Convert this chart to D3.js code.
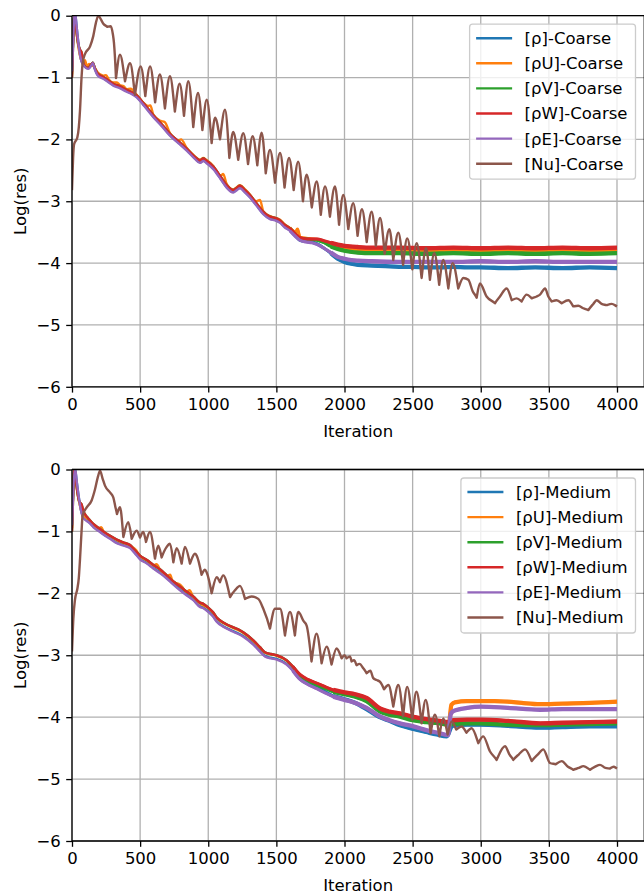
<!DOCTYPE html>
<html>
<head>
<meta charset="utf-8">
<script src="https://cdn.jsdelivr.net/npm/d3@7"></script>
<style>
  body { margin: 0; background: #fff; }
  svg { display: block; }
  text { font-family: "DejaVu Sans", sans-serif; }
</style>
</head>
<body>
<svg id="chart" width="644" height="896"></svg>
<script>
// ---- data ----
const iterTicks = [0, 500, 1000, 1500, 2000, 2500, 3000, 3500, 4000];
const logTicks = [0, -1, -2, -3, -4, -5, -6];
const seriesNames = ['[ρ]', '[ρU]', '[ρV]', '[ρW]', '[ρE]', '[Nu]'];
const seriesColors = ['#1f77b4', '#ff7f0e', '#2ca02c', '#d62728', '#9467bd', '#8c564b'];

// Coarse mesh, [iteration, log10(res)]
const rhoCoarse = [[0,-0.9],[8,-0.4],[22,0.05],[35,-0.2],[50,-0.5],[65,-0.7],[80,-0.78],[100,-0.83],[120,-0.85],[140,-0.8],[152,-0.76],[168,-0.86],[190,-0.96],[230,-1.01],[270,-1.07],[303,-1.12],[350,-1.16],[401,-1.22],[440,-1.26],[475,-1.31],[530,-1.45],[597,-1.63],[660,-1.78],[719,-1.93],[780,-2.05],[842,-2.17],[900,-2.3],[939,-2.37],[964,-2.34],[985,-2.37],[1037,-2.47],[1090,-2.63],[1135,-2.77],[1183,-2.85],[1210,-2.81],[1233,-2.78],[1270,-2.85],[1306,-2.93],[1350,-3.05],[1404,-3.2],[1453,-3.28],[1490,-3.3],[1527,-3.34],[1560,-3.41],[1600,-3.47],[1640,-3.56],[1673,-3.63],[1720,-3.65],[1760,-3.66],[1800,-3.69],[1850,-3.76],[1900,-3.84],[1950,-3.93],[2000,-3.98],[2050,-4.01],[2100,-4.03],[2200,-4.04],[2300,-4.05],[2400,-4.06],[2500,-4.06],[2600,-4.07],[2700,-4.07],[2800,-4.06],[2900,-4.07],[3000,-4.07],[3200,-4.08],[3400,-4.07],[3600,-4.08],[3800,-4.07],[4000,-4.08]];
const rhoUCoarse = [[0,-0.95],[8,-0.4],[20,0.0],[35,-0.3],[50,-0.55],[65,-0.7],[80,-0.76],[95,-0.72],[110,-0.82],[125,-0.78],[140,-0.8],[160,-0.82],[190,-0.92],[210,-0.95],[230,-0.97],[250,-0.96],[270,-1.03],[300,-1.08],[330,-1.08],[350,-1.12],[380,-1.14],[401,-1.19],[430,-1.18],[475,-1.28],[530,-1.42],[560,-1.46],[575,-1.45],[597,-1.6],[650,-1.7],[680,-1.72],[719,-1.9],[780,-2.02],[800,-2.0],[842,-2.14],[900,-2.27],[939,-2.33],[964,-2.3],[985,-2.33],[1037,-2.43],[1090,-2.59],[1110,-2.56],[1135,-2.72],[1183,-2.81],[1233,-2.74],[1270,-2.81],[1306,-2.89],[1350,-3.0],[1380,-2.98],[1404,-3.16],[1453,-3.24],[1527,-3.3],[1560,-3.37],[1600,-3.43],[1640,-3.5],[1655,-3.45],[1673,-3.58],[1720,-3.6],[1760,-3.61],[1800,-3.62],[1850,-3.66],[1900,-3.7],[1950,-3.74],[2000,-3.76],[2100,-3.77],[2200,-3.78],[2400,-3.78],[2600,-3.79],[2800,-3.78],[3000,-3.79],[3200,-3.78],[3400,-3.79],[3600,-3.78],[3800,-3.79],[4000,-3.78]];
const rhoVCoarse = [[0,-1.0],[6,-0.6],[14,-0.05],[20,0.0],[30,-0.2],[45,-0.45],[59,-0.55],[71,-0.6],[85,-0.78],[100,-0.83],[120,-0.84],[140,-0.79],[152,-0.76],[170,-0.86],[190,-0.94],[230,-0.99],[270,-1.05],[303,-1.1],[350,-1.14],[401,-1.2],[440,-1.24],[475,-1.29],[530,-1.43],[597,-1.61],[660,-1.76],[719,-1.91],[780,-2.03],[842,-2.15],[900,-2.28],[939,-2.34],[964,-2.31],[985,-2.34],[1037,-2.44],[1090,-2.6],[1135,-2.74],[1183,-2.82],[1210,-2.78],[1233,-2.75],[1270,-2.82],[1306,-2.9],[1350,-3.02],[1404,-3.17],[1453,-3.25],[1490,-3.27],[1527,-3.31],[1560,-3.38],[1600,-3.44],[1640,-3.53],[1673,-3.6],[1720,-3.61],[1760,-3.62],[1800,-3.63],[1850,-3.67],[1900,-3.73],[1950,-3.77],[2000,-3.8],[2100,-3.83],[2200,-3.84],[2400,-3.84],[2600,-3.85],[2800,-3.84],[3000,-3.85],[3200,-3.84],[3400,-3.85],[3600,-3.84],[3800,-3.85],[4000,-3.84]];
const rhoWCoarse = [[0,-1.0],[6,-0.6],[14,-0.05],[20,0.0],[30,-0.2],[45,-0.45],[59,-0.55],[71,-0.6],[85,-0.78],[100,-0.83],[120,-0.84],[140,-0.79],[152,-0.76],[170,-0.86],[190,-0.94],[230,-0.99],[270,-1.05],[303,-1.1],[350,-1.14],[401,-1.2],[440,-1.24],[475,-1.29],[530,-1.43],[597,-1.61],[660,-1.76],[719,-1.91],[780,-2.03],[842,-2.15],[900,-2.28],[939,-2.34],[964,-2.31],[985,-2.34],[1037,-2.44],[1090,-2.6],[1135,-2.74],[1183,-2.82],[1210,-2.78],[1233,-2.75],[1270,-2.82],[1306,-2.9],[1350,-3.02],[1404,-3.17],[1453,-3.25],[1490,-3.27],[1527,-3.31],[1560,-3.38],[1600,-3.44],[1640,-3.53],[1673,-3.59],[1720,-3.61],[1760,-3.61],[1800,-3.61],[1850,-3.64],[1900,-3.67],[1950,-3.7],[2000,-3.72],[2100,-3.74],[2200,-3.75],[2400,-3.75],[2600,-3.76],[2800,-3.75],[3000,-3.76],[3200,-3.75],[3400,-3.76],[3600,-3.75],[3800,-3.76],[4000,-3.75]];
const rhoECoarse = [[0,-0.9],[8,-0.4],[22,0.05],[35,-0.2],[50,-0.5],[65,-0.7],[80,-0.79],[100,-0.84],[120,-0.86],[140,-0.81],[152,-0.77],[168,-0.87],[190,-0.97],[230,-1.02],[270,-1.08],[303,-1.13],[350,-1.17],[401,-1.23],[440,-1.27],[475,-1.32],[530,-1.46],[597,-1.64],[660,-1.79],[719,-1.94],[780,-2.06],[842,-2.18],[900,-2.31],[939,-2.38],[964,-2.35],[985,-2.38],[1037,-2.48],[1090,-2.64],[1135,-2.78],[1183,-2.86],[1210,-2.82],[1233,-2.79],[1270,-2.86],[1306,-2.94],[1350,-3.06],[1404,-3.21],[1453,-3.29],[1490,-3.31],[1527,-3.35],[1560,-3.42],[1600,-3.48],[1640,-3.57],[1673,-3.63],[1720,-3.66],[1760,-3.67],[1800,-3.7],[1850,-3.76],[1900,-3.83],[1950,-3.9],[2000,-3.93],[2050,-3.95],[2100,-3.96],[2200,-3.97],[2400,-3.98],[2600,-3.98],[2800,-3.98],[3000,-3.97],[3200,-3.98],[3400,-3.97],[3600,-3.98],[3800,-3.98],[4000,-3.98]];
const nuCoarse = [[0,-2.82],[8,-2.3],[15,-2.08],[39,-1.97],[50,-1.8],[59,-1.52],[70,-1.0],[78,-0.77],[95,-0.62],[132,-0.5],[156,-0.33],[175,-0.12],[193,0.0],[212,-0.06],[230,-0.13],[259,-0.18],[284,-0.17],[300,-0.3],[308,-0.44],[323,-1.01],[352,-0.63],[389,-1.06],[426,-0.77],[462,-1.28],[504,-0.82],[538,-1.3],[573,-0.82],[610,-1.4],[645,-0.95],[682,-1.5],[719,-0.98],[755,-1.55],[790,-1.1],[822,-1.62],[854,-1.06],[890,-1.8],[925,-1.25],[957,-1.85],[989,-1.36],[1025,-2.06],[1050,-1.65],[1086,-2.0],[1123,-1.52],[1155,-2.3],[1183,-1.88],[1220,-2.33],[1257,-1.9],[1292,-2.4],[1326,-1.95],[1360,-2.42],[1392,-1.89],[1422,-2.55],[1453,-2.17],[1490,-2.7],[1527,-2.22],[1560,-2.78],[1593,-2.3],[1627,-2.82],[1660,-2.36],[1695,-3.0],[1722,-2.57],[1760,-3.1],[1796,-2.68],[1826,-3.22],[1857,-2.76],[1893,-3.25],[1930,-2.76],[1960,-3.38],[1991,-2.9],[2028,-3.45],[2064,-3.03],[2096,-3.56],[2128,-3.13],[2163,-3.66],[2199,-3.17],[2230,-3.72],[2261,-3.27],[2295,-3.85],[2329,-3.45],[2358,-3.95],[2395,-3.51],[2430,-4.03],[2460,-3.6],[2498,-4.1],[2530,-3.68],[2566,-4.24],[2598,-3.76],[2627,-4.27],[2659,-3.84],[2695,-4.35],[2725,-3.95],[2762,-4.41],[2794,-4.0],[2835,-4.41],[2872,-4.24],[2909,-4.27],[2940,-4.45],[2970,-4.56],[2994,-4.33],[3043,-4.54],[3104,-4.65],[3141,-4.54],[3190,-4.41],[3227,-4.6],[3264,-4.57],[3300,-4.62],[3337,-4.51],[3374,-4.57],[3410,-4.54],[3435,-4.51],[3472,-4.41],[3496,-4.54],[3520,-4.62],[3557,-4.6],[3594,-4.65],[3643,-4.6],[3679,-4.7],[3716,-4.69],[3753,-4.73],[3790,-4.76],[3826,-4.66],[3851,-4.6],[3887,-4.66],[3924,-4.68],[3961,-4.66],[4000,-4.7]];

// Medium mesh
const rhoMedium = [[0,-0.9],[8,-0.4],[22,0.02],[35,-0.2],[50,-0.45],[65,-0.65],[78,-0.75],[95,-0.8],[120,-0.84],[140,-0.88],[156,-0.92],[193,-0.98],[230,-1.04],[280,-1.11],[328,-1.18],[380,-1.22],[426,-1.26],[460,-1.34],[499,-1.44],[550,-1.51],[597,-1.59],[650,-1.67],[695,-1.75],[740,-1.84],[793,-1.94],[840,-2.02],[890,-2.1],[939,-2.21],[964,-2.23],[1000,-2.29],[1037,-2.37],[1062,-2.45],[1110,-2.53],[1184,-2.61],[1257,-2.69],[1331,-2.82],[1380,-2.93],[1416,-3.01],[1460,-3.04],[1502,-3.06],[1575,-3.14],[1620,-3.24],[1673,-3.38],[1730,-3.46],[1796,-3.52],[1850,-3.58],[1918,-3.66],[2000,-3.71],[2080,-3.77],[2162,-3.87],[2250,-3.99],[2330,-4.06],[2407,-4.13],[2506,-4.19],[2600,-4.24],[2677,-4.28],[2751,-4.31],[2790,-4.14],[2900,-4.12],[3000,-4.12],[3200,-4.14],[3435,-4.17],[3600,-4.16],[3800,-4.15],[4000,-4.15]];
const rhoUMedium = [[0,-0.95],[8,-0.4],[20,0.0],[35,-0.3],[50,-0.5],[65,-0.64],[80,-0.73],[95,-0.78],[120,-0.81],[156,-0.89],[193,-0.95],[215,-0.93],[235,-1.02],[280,-1.08],[328,-1.14],[380,-1.19],[426,-1.23],[470,-1.3],[499,-1.4],[550,-1.47],[597,-1.55],[620,-1.53],[650,-1.63],[695,-1.72],[720,-1.7],[740,-1.81],[793,-1.86],[810,-1.9],[840,-1.98],[862,-1.95],[890,-2.06],[939,-2.16],[1000,-2.24],[1037,-2.32],[1062,-2.4],[1110,-2.48],[1184,-2.56],[1257,-2.64],[1331,-2.77],[1380,-2.88],[1416,-2.96],[1502,-3.01],[1575,-3.09],[1620,-3.19],[1673,-3.32],[1730,-3.4],[1796,-3.46],[1850,-3.51],[1918,-3.57],[2000,-3.62],[2080,-3.66],[2162,-3.72],[2261,-3.89],[2330,-3.94],[2407,-3.98],[2500,-4.03],[2600,-4.07],[2700,-4.1],[2765,-4.12],[2785,-3.8],[2810,-3.76],[2900,-3.74],[3000,-3.74],[3100,-3.74],[3200,-3.75],[3300,-3.77],[3435,-3.79],[3600,-3.78],[3800,-3.77],[4000,-3.75]];
const rhoVMedium = [[0,-1.0],[6,-0.6],[14,-0.05],[20,0.0],[30,-0.2],[42,-0.4],[54,-0.52],[70,-0.56],[85,-0.68],[95,-0.72],[120,-0.79],[156,-0.88],[193,-0.94],[230,-1.0],[280,-1.07],[328,-1.13],[380,-1.18],[426,-1.22],[460,-1.3],[499,-1.39],[550,-1.46],[597,-1.54],[650,-1.62],[695,-1.71],[740,-1.8],[793,-1.89],[840,-1.97],[890,-2.05],[939,-2.15],[964,-2.17],[1000,-2.23],[1037,-2.31],[1062,-2.39],[1110,-2.47],[1184,-2.55],[1220,-2.58],[1257,-2.63],[1331,-2.76],[1380,-2.87],[1416,-2.95],[1460,-2.98],[1502,-3.0],[1575,-3.08],[1620,-3.18],[1673,-3.32],[1730,-3.41],[1796,-3.48],[1850,-3.53],[1918,-3.59],[2000,-3.63],[2080,-3.67],[2162,-3.74],[2261,-3.91],[2330,-3.96],[2407,-3.99],[2500,-4.05],[2600,-4.08],[2700,-4.1],[2760,-4.12],[2800,-4.11],[2900,-4.1],[3000,-4.1],[3200,-4.12],[3435,-4.13],[3600,-4.12],[3800,-4.11],[4000,-4.1]];
const rhoWMedium = [[0,-1.0],[6,-0.6],[14,-0.05],[20,0.0],[30,-0.2],[42,-0.4],[54,-0.52],[70,-0.56],[85,-0.68],[95,-0.72],[120,-0.79],[156,-0.88],[193,-0.94],[230,-1.0],[280,-1.07],[328,-1.13],[380,-1.18],[426,-1.22],[460,-1.3],[499,-1.39],[550,-1.46],[597,-1.54],[650,-1.62],[695,-1.71],[740,-1.8],[793,-1.89],[840,-1.97],[890,-2.05],[939,-2.15],[964,-2.17],[1000,-2.23],[1037,-2.31],[1062,-2.39],[1110,-2.47],[1184,-2.55],[1220,-2.58],[1257,-2.63],[1331,-2.76],[1380,-2.87],[1416,-2.95],[1460,-2.98],[1502,-3.0],[1575,-3.08],[1620,-3.18],[1673,-3.31],[1730,-3.39],[1796,-3.45],[1850,-3.5],[1918,-3.56],[2000,-3.6],[2080,-3.63],[2162,-3.69],[2261,-3.86],[2330,-3.91],[2407,-3.94],[2500,-3.99],[2600,-4.03],[2700,-4.06],[2760,-4.08],[2800,-4.05],[2900,-4.04],[3000,-4.04],[3200,-4.06],[3435,-4.1],[3600,-4.09],[3800,-4.08],[4000,-4.07]];
const rhoEMedium = [[0,-0.9],[8,-0.4],[22,0.02],[35,-0.2],[50,-0.45],[65,-0.65],[78,-0.76],[95,-0.81],[120,-0.85],[140,-0.89],[156,-0.93],[193,-0.99],[230,-1.05],[280,-1.12],[328,-1.19],[380,-1.23],[426,-1.27],[460,-1.35],[499,-1.45],[550,-1.52],[597,-1.6],[650,-1.68],[695,-1.76],[740,-1.85],[793,-1.95],[840,-2.03],[890,-2.11],[939,-2.22],[964,-2.24],[1000,-2.3],[1037,-2.38],[1062,-2.46],[1110,-2.54],[1184,-2.62],[1257,-2.7],[1331,-2.83],[1380,-2.94],[1416,-3.02],[1460,-3.05],[1502,-3.07],[1575,-3.15],[1620,-3.25],[1673,-3.39],[1730,-3.47],[1796,-3.54],[1850,-3.6],[1918,-3.67],[2000,-3.72],[2080,-3.77],[2162,-3.85],[2261,-3.99],[2330,-4.05],[2407,-4.1],[2506,-4.15],[2600,-4.21],[2700,-4.26],[2760,-4.29],[2780,-3.95],[2800,-3.9],[2900,-3.85],[3000,-3.83],[3200,-3.85],[3435,-3.88],[3600,-3.87],[3800,-3.87],[4000,-3.87]];
const nuMedium = [[0,-2.94],[10,-2.4],[22,-2.1],[39,-1.93],[50,-1.75],[59,-1.44],[70,-1.0],[78,-0.74],[108,-0.61],[144,-0.5],[169,-0.32],[190,-0.12],[206,-0.02],[225,-0.15],[242,-0.26],[279,-0.37],[303,-0.45],[318,-0.6],[330,-0.72],[352,-0.61],[377,-1.09],[413,-0.85],[438,-1.12],[474,-0.99],[499,-1.1],[523,-1.01],[543,-1.17],[572,-1.01],[609,-1.44],[633,-1.23],[658,-1.42],[695,-1.25],[719,-1.2],[744,-1.5],[768,-1.27],[805,-1.52],[829,-1.25],[866,-1.52],[902,-1.36],[915,-1.39],[951,-1.7],[976,-1.62],[988,-1.66],[1025,-2.0],[1062,-1.74],[1086,-1.82],[1110,-1.71],[1160,-2.06],[1196,-1.95],[1233,-1.88],[1270,-2.09],[1318,-2.05],[1367,-2.09],[1404,-2.25],[1453,-2.57],[1490,-2.25],[1527,-2.25],[1563,-2.68],[1600,-2.3],[1636,-2.68],[1661,-2.3],[1700,-2.45],[1722,-2.52],[1758,-3.1],[1795,-2.65],[1832,-3.13],[1869,-2.86],[1905,-3.15],[1942,-2.89],[1979,-3.05],[2000,-3.0],[2015,-3.05],[2040,-3.02],[2052,-3.1],[2070,-3.08],[2088,-3.16],[2110,-3.14],[2138,-3.21],[2162,-3.29],[2190,-3.25],[2211,-3.37],[2236,-3.4],[2261,-3.43],[2290,-3.55],[2322,-3.48],[2358,-3.83],[2395,-3.48],[2430,-3.99],[2460,-3.51],[2497,-4.04],[2528,-3.59],[2566,-4.1],[2596,-3.72],[2632,-4.26],[2664,-3.96],[2696,-4.31],[2725,-4.02],[2757,-4.28],[2786,-4.07],[2820,-4.2],[2859,-4.15],[2895,-4.25],[2933,-4.18],[2982,-4.42],[3018,-4.31],[3067,-4.55],[3116,-4.69],[3178,-4.47],[3210,-4.6],[3239,-4.69],[3280,-4.6],[3325,-4.52],[3374,-4.71],[3420,-4.6],[3459,-4.52],[3508,-4.74],[3550,-4.76],[3594,-4.71],[3640,-4.8],[3679,-4.85],[3720,-4.82],[3753,-4.79],[3802,-4.85],[3840,-4.8],[3875,-4.77],[3915,-4.82],[3949,-4.83],[3975,-4.8],[4000,-4.83]];

const coarseSeries = [rhoCoarse, rhoUCoarse, rhoVCoarse, rhoWCoarse, rhoECoarse, nuCoarse];
const mediumSeries = [rhoMedium, rhoUMedium, rhoVMedium, rhoWMedium, rhoEMedium, nuMedium];

// curve: rounded crests, sharper troughs (the |sin|-like Nu oscillations)
function CuspCurve(context) { this._context = context; }
CuspCurve.prototype = {
    areaStart() {}, areaEnd() {},
    lineStart() { this._pts = []; },
    point(x, y) { this._pts.push([+x, +y]); },
    lineEnd() {
        const p = this._pts, n = p.length, ctx = this._context;
        if (n === 0) return;
        ctx.moveTo(p[0][0], p[0][1]);
        if (n === 1) return;
        const s = [];
        for (let i = 0; i < n - 1; i++) s.push((p[i + 1][1] - p[i][1]) / (p[i + 1][0] - p[i][0]));
        const mIn = [], mOut = [];
        for (let i = 0; i < n; i++) {
            if (i === 0) { mIn[i] = mOut[i] = s[0]; continue; }
            if (i === n - 1) { mIn[i] = mOut[i] = s[n - 2]; continue; }
            const s0 = s[i - 1], s1 = s[i];
            const h0 = p[i][0] - p[i - 1][0], h1 = p[i + 1][0] - p[i][0];
            if (s0 > 0 && s1 < 0) {
                // trough (screen y maximum): keep a corner
                mIn[i] = 1.3 * s0;
                mOut[i] = 1.3 * s1;
            } else {
                const pp = (s0 * h1 + s1 * h0) / (h0 + h1);
                const m = (Math.sign(s0) + Math.sign(s1)) * Math.min(Math.abs(s0), Math.abs(s1), 0.5 * Math.abs(pp));
                mIn[i] = mOut[i] = m;
            }
        }
        for (let i = 0; i < n - 1; i++) {
            const h = p[i + 1][0] - p[i][0];
            ctx.bezierCurveTo(p[i][0] + h / 3, p[i][1] + mOut[i] * h / 3,
                p[i + 1][0] - h / 3, p[i + 1][1] - mIn[i + 1] * h / 3,
                p[i + 1][0], p[i + 1][1]);
        }
    }
};
const curveCusp = ctx => new CuspCurve(ctx);

const svg = d3.select('#chart');
const FONT = 16.5;

function drawPanel(cfg) {
    const x = d3.scaleLinear().domain([0, 4200]).range([72, 644.25]);
    const y = d3.scaleLinear().domain([-6, 0]).range([cfg.bottom, cfg.top]);
    const g = svg.append('g');

    // Grid
    g.append('g').selectAll('line').data(iterTicks).join('line')
        .attr('x1', d => x(d)).attr('x2', d => x(d))
        .attr('y1', cfg.top).attr('y2', cfg.bottom)
        .attr('stroke', '#b0b0b0').attr('stroke-width', 1.3);
    g.append('g').selectAll('line').data(logTicks).join('line')
        .attr('x1', 72).attr('x2', 644.25)
        .attr('y1', d => y(d)).attr('y2', d => y(d))
        .attr('stroke', '#b0b0b0').attr('stroke-width', 1.3);

    // Clip to the axes box
    svg.append('clipPath').attr('id', cfg.id + '-clip')
        .append('rect').attr('x', 72).attr('y', cfg.top)
        .attr('width', 644.25 - 72).attr('height', cfg.bottom - cfg.top);

    const plot = g.append('g').attr('clip-path', `url(#${cfg.id}-clip)`);
    const smooth = d3.line().x(d => x(d[0])).y(d => y(d[1])).curve(d3.curveMonotoneX);
    const cusp = d3.line().x(d => x(d[0])).y(d => y(d[1])).curve(curveCusp);

    cfg.series.forEach((data, i) => {
        const isNu = i === cfg.series.length - 1;
        plot.append('path')
            .datum(data)
            .attr('d', isNu ? cusp : smooth)
            .attr('fill', 'none')
            .attr('stroke', seriesColors[i])
            .attr('stroke-width', 2.4)
            .attr('stroke-linejoin', 'round');
        if (!isNu) {
            // noisy converged part drawn as a band that widens with iterations
            cfg.tails.forEach(t => {
                plot.append('path')
                    .datum(data.filter(d => d[0] >= t.from))
                    .attr('d', smooth)
                    .attr('fill', 'none')
                    .attr('stroke', seriesColors[i])
                    .attr('stroke-width', t.width)
                    .attr('stroke-linejoin', 'round');
            });
        }
    });

    // Axes
    const xAxis = g.append('g')
        .attr('transform', `translate(0,${cfg.bottom})`)
        .call(d3.axisBottom(x).tickValues(iterTicks).tickSize(5.8).tickPadding(5.5).tickFormat(d3.format('d')));
    const yAxis = g.append('g')
        .attr('transform', 'translate(72,0)')
        .call(d3.axisLeft(y).tickValues(logTicks).tickSize(5.8).tickPadding(5.5).tickFormat(d3.format('d')));
    [xAxis, yAxis].forEach(a => {
        a.select('.domain').remove();
        a.selectAll('line').attr('stroke', '#000').attr('stroke-width', 1.3);
        a.selectAll('text').attr('fill', '#000')
            .style('font-family', '"DejaVu Sans", sans-serif')
            .style('font-size', FONT + 'px');
    });

    // Spines
    const spine = g.append('g').attr('stroke', '#000').attr('stroke-width', 1.3);
    spine.append('line').attr('x1', 72).attr('x2', 72).attr('y1', cfg.top).attr('y2', cfg.bottom);
    spine.append('line').attr('x1', 72).attr('x2', 644.25).attr('y1', cfg.bottom).attr('y2', cfg.bottom);
    spine.append('line').attr('x1', 72).attr('x2', 644.25).attr('y1', cfg.top).attr('y2', cfg.top);
    spine.append('line').attr('x1', 644.25).attr('x2', 644.25).attr('y1', cfg.top).attr('y2', cfg.bottom);

    // Labels
    g.append('text')
        .attr('x', (72 + 644.25) / 2).attr('y', cfg.bottom + 50)
        .attr('text-anchor', 'middle')
        .style('font-size', FONT + 'px')
        .text('Iteration');
    g.append('text')
        .attr('transform', `translate(26,${(cfg.top + cfg.bottom) / 2}) rotate(-90)`)
        .attr('text-anchor', 'middle')
        .style('font-size', FONT + 'px')
        .text('Log(res)');

    // Legend
    const leg = g.append('g');
    const frame = leg.append('rect');
    const rowH = 25.1;
    const rows = leg.selectAll('g').data(seriesNames).join('g')
        .attr('transform', (d, i) => `translate(0,${cfg.top + 22.5 + i * rowH})`);
    rows.append('line')
        .attr('x1', 6.5).attr('x2', 42.5).attr('y1', 0).attr('y2', 0)
        .attr('stroke', (d, i) => seriesColors[i]).attr('stroke-width', 2.4);
    const labels = rows.append('text')
        .attr('x', 55).attr('dy', '0.36em')
        .style('font-size', FONT + 'px')
        .text(d => d + '-' + cfg.mesh);
    let maxW = 0;
    labels.each(function () { maxW = Math.max(maxW, this.getComputedTextLength()); });
    const boxW = 55 + maxW + 8;
    leg.attr('transform', `translate(${635.5 - boxW},0)`);
    frame.attr('x', 0).attr('y', cfg.top + 8.5)
        .attr('width', boxW).attr('height', 155)
        .attr('rx', 3).attr('ry', 3)
        .attr('fill', '#fff').attr('fill-opacity', 0.8)
        .attr('stroke', '#cccccc').attr('stroke-width', 1.3);
}

const noiseBands = [{ from: 1600, width: 3.1 }, { from: 1900, width: 4.3 }];
drawPanel({ id: 'coarse', top: 15.7, bottom: 386.8, series: coarseSeries, mesh: 'Coarse', tails: noiseBands });
drawPanel({ id: 'medium', top: 469.5, bottom: 841, series: mediumSeries, mesh: 'Medium', tails: noiseBands });
</script>
</body>
</html>
